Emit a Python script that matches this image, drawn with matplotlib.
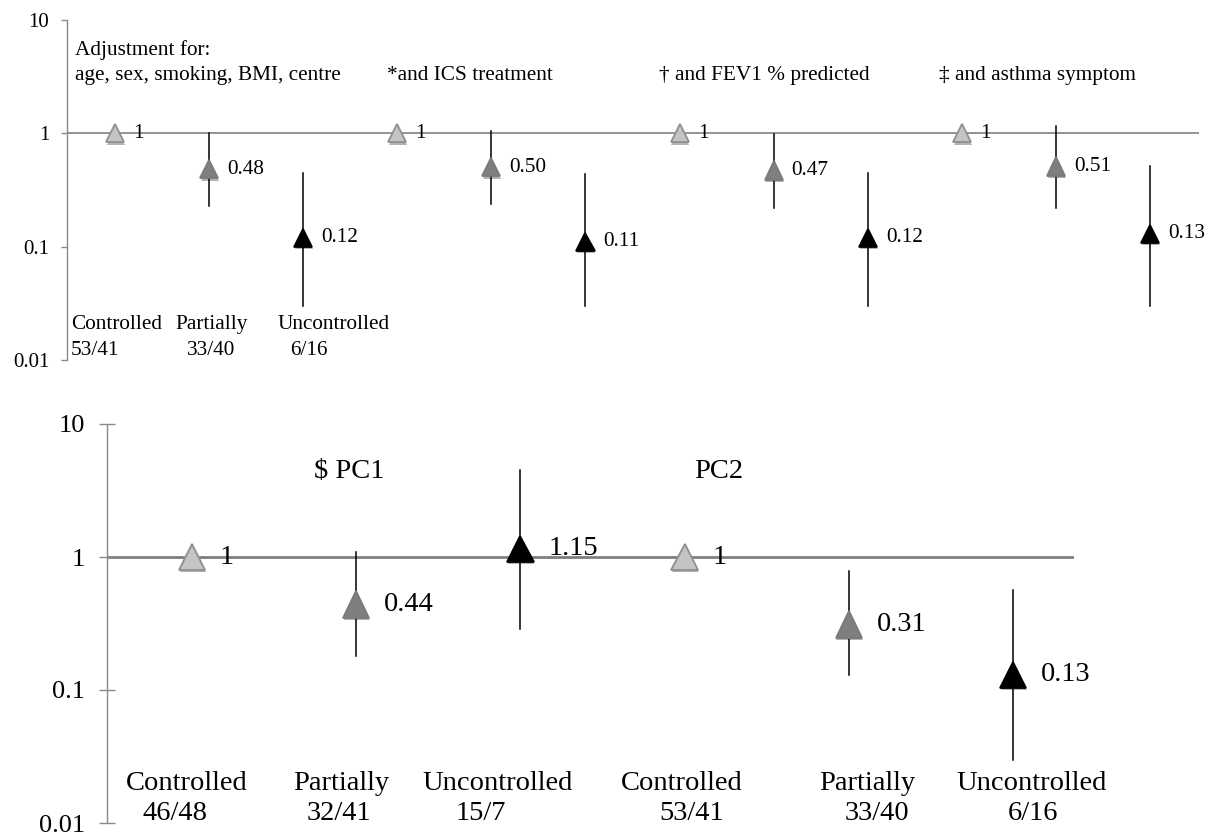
import numpy as np
import matplotlib
matplotlib.use('Agg')
import matplotlib.pyplot as plt
import matplotlib.patheffects as pe
from matplotlib.ticker import NullLocator

plt.rcParams['font.family'] = ['Liberation Serif', 'DejaVu Serif']

# ---- donnees ----
nan = np.nan
# panneau du haut : 4 ajustements x 3 groupes
top_or = [1, 0.48, 0.12, 1, 0.50, 0.11, 1, 0.47, 0.12, 1, 0.51, 0.13]
top_lo = [nan, 0.23, 0.030, nan, 0.24, 0.030, nan, 0.22, 0.030, nan, 0.22, 0.030]
top_hi = [nan, 1.00, 0.45, nan, 1.05, 0.44, nan, 0.99, 0.45, nan, 1.16, 0.515]
top_txt = ['1', '0.48', '0.12', '1', '0.50', '0.11', '1', '0.47', '0.12', '1', '0.51', '0.13']
top_counts = ['53/41', '33/40', '6/16']
adjust = ['age, sex, smoking, BMI, centre', '*and ICS treatment',
          '\u2020 and FEV1 % predicted', '\u2021 and asthma symptom']

# panneau du bas : PC1 / PC2
bot_or = [1, 0.44, 1.15, 1, 0.31, 0.13]
bot_lo = [nan, 0.18, 0.29, nan, 0.13, 0.030]
bot_hi = [nan, 1.09, 4.5, nan, 0.78, 0.56]
bot_txt = ['1', '0.44', '1.15', '1', '0.31', '0.13']
bot_counts = ['46/48', '32/41', '15/7', '53/41', '33/40', '6/16']
groups = ['Controlled', 'Partially', 'Uncontrolled']
pcs = ['$ PC1', 'PC2']

fill = ['#c4c4c4', '#7f7f7f', '#000000']
edge = ['#8f8f8f', '#7a7a7a', '#000000']
axe_col = '#8a8a8a'
ombre = [pe.SimplePatchShadow(offset=(0.6, -1.6), shadow_rgbFace='k', alpha=0.3), pe.Normal()]

fig = plt.figure(figsize=(12.15, 8.36), dpi=100)


def axe_log(ax, tdir, tlen, lsize, pad):
    ax.set_yscale('log')
    ax.set_ylim(0.01, 10)
    for s in ['top', 'right', 'bottom']:
        ax.spines[s].set_visible(False)
    ax.spines['left'].set_color(axe_col)
    ax.spines['left'].set_linewidth(1)
    ax.set_yticks([0.01, 0.1, 1, 10])
    ax.set_yticklabels(['0.01', '0.1', '1', '10'])
    ax.yaxis.set_minor_locator(NullLocator())
    ax.tick_params(axis='y', direction=tdir, length=tlen, width=1,
                   color=axe_col, labelsize=lsize, pad=pad)
    ax.set_xticks([])
    ax.patch.set_alpha(0)


def points(ax, vals, lo, hi, txt, ms, fs, dx):
    for i in range(len(vals)):
        x = i + 1
        k = i % 3
        if not np.isnan(lo[i]):
            ax.plot([x, x], [lo[i], hi[i]], color='black', lw=1.1, zorder=2)
        ax.plot(x, vals[i], marker='^', ms=ms, mfc=fill[k], mec=edge[k], mew=1.3,
                ls='none', zorder=3, path_effects=ombre)
        ax.annotate(txt[i], (x, vals[i]), xytext=(dx, 0), textcoords='offset points',
                    va='center', ha='left', fontsize=fs, zorder=4)


###~~~ panneau du haut ~~~###
ax1 = fig.add_axes([67 / 1215, (836 - 360) / 836, (1199 - 67) / 1215, 340 / 836])
axe_log(ax1, 'out', 4.3, 15, 8.5)
ax1.set_xlim(0.49, 12.52)
ax1.axhline(1, color=axe_col, lw=1.3, zorder=1)
points(ax1, top_or, top_lo, top_hi, top_txt, 13, 15.3, 13)

tr1 = ax1.get_xaxis_transform()
ax1.text(0.575, 0.912, 'Adjustment for:', transform=tr1, fontsize=15.3, va='center')
for x, t in zip([0.575, 3.89, 6.78, 9.76], adjust):
    ax1.text(x, 0.838, t, transform=tr1, fontsize=15.3, va='center')

for x, t, h in zip([0.532, 2.03, 3.32], groups, ['left', 'center', 'center']):
    ax1.text(x, 0.103, t, transform=tr1, fontsize=15.3, va='center', ha=h)
for x, t, h in zip([0.532, 2.02, 3.06], top_counts, ['left', 'center', 'center']):
    ax1.text(x, 0.029, t, transform=tr1, fontsize=15.3, va='center', ha=h)

###~~~ panneau du bas ~~~###
ax2 = fig.add_axes([107 / 1215, 13 / 836, 967 / 1215, 399 / 836])
axe_log(ax2, 'inout', 11.5, 19, 10)
ax2.set_xlim(0.483, 6.371)
ax2.axhline(1, color='#7f7f7f', lw=2, zorder=1)
points(ax2, bot_or, bot_lo, bot_hi, bot_txt, 19, 20.5, 20)

tr2 = ax2.get_xaxis_transform()
for x, t in zip([1.955, 4.206], pcs):
    ax2.text(x, 0.880, t, transform=tr2, fontsize=20.5, va='center', ha='center')

gx = [0.97, 1.912, 2.861, 3.98, 5.11, 6.11]
cx = [0.90, 1.894, 2.76, 4.04, 5.17, 6.12]
for i in range(6):
    ax2.text(gx[i], 0.100, groups[i % 3], transform=tr2, fontsize=20.5, va='center', ha='center')
    ax2.text(cx[i], 0.025, bot_counts[i], transform=tr2, fontsize=20.5, va='center', ha='center')

fig.savefig('out.png', dpi=100)
